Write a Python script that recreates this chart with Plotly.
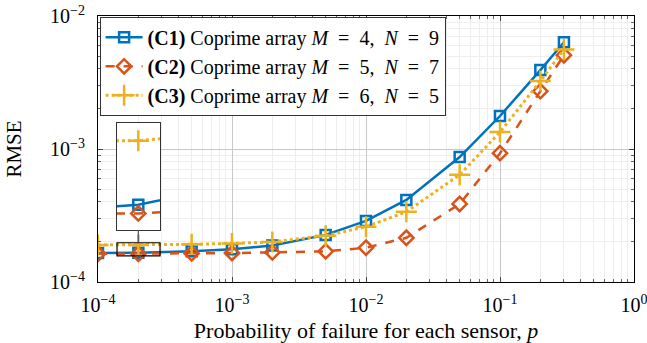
import plotly.graph_objects as go
import numpy as np

# ---- data ----
p = [1e-4, 2e-4, 5e-4, 1e-3, 2e-3, 5e-3, 1e-2, 2e-2, 5e-2, 1e-1, 2e-1, 3e-1]
rmse_c1 = [1.65e-4, 1.66e-4, 1.70e-4, 1.76e-4, 1.88e-4, 2.26e-4, 2.88e-4, 4.14e-4, 8.7e-4, 1.77e-3, 3.92e-3, 6.35e-3]
rmse_c2 = [1.63e-4, 1.63e-4, 1.64e-4, 1.65e-4, 1.67e-4, 1.70e-4, 1.81e-4, 2.15e-4, 3.86e-4, 9.3e-4, 2.72e-3, 5.07e-3]
rmse_c3 = [1.90e-4, 1.90e-4, 1.92e-4, 1.95e-4, 2.00e-4, 2.23e-4, 2.60e-4, 3.37e-4, 6.4e-4, 1.34e-3, 3.24e-3, 5.6e-3]

names = ["<b>(C1)</b> Coprime array <i>M</i>&nbsp; = &nbsp;4, &nbsp;<i>N</i>&nbsp; = &nbsp;9",
         "<b>(C2)</b> Coprime array <i>M</i>&nbsp; = &nbsp;5, &nbsp;<i>N</i>&nbsp; = &nbsp;7",
         "<b>(C3)</b> Coprime array <i>M</i>&nbsp; = &nbsp;6, &nbsp;<i>N</i>&nbsp; = &nbsp;5"]

x_tickvals = [1e-4, 1e-3, 1e-2, 1e-1, 1e0]
x_ticktext = ["10<sup>−4</sup>", "10<sup>−3</sup>", "10<sup>−2</sup>", "10<sup>−1</sup>", "10<sup>0</sup>"]
y_tickvals = [1e-4, 1e-3, 1e-2]
y_ticktext = ["10<sup>−4</sup>", "10<sup>−3</sup>", "10<sup>−2</sup>"]

# inset region (log10 units)
inset_x = [-3.858, -3.537]
inset_y = [-3.803, -3.705]

BLUE = "#0072BD"
ORANGE = "#D95319"
YELLOW = "#EDB120"
FONT = "Liberation Serif, Times New Roman, serif"

styles = [
    dict(color=BLUE, dash="solid", symbol="square-open", size=10, lw=2.5),
    dict(color=ORANGE, dash="dash", symbol="diamond-open", size=11, lw=2.5),
    dict(color=YELLOW, dash="dot", symbol="cross-thin-open", size=15, lw=3),
]
series = [rmse_c1, rmse_c2, rmse_c3]

fig = go.Figure()
for nm, ys, st in zip(names, series, styles):
    fig.add_trace(go.Scatter(
        x=p, y=ys, name=nm, mode="lines+markers",
        line=dict(color=st["color"], width=st["lw"], dash=st["dash"]),
        marker=dict(symbol=st["symbol"], size=st["size"], color=st["color"],
                    line=dict(color=st["color"], width=2.5)),
        xaxis="x", yaxis="y"))
# inset traces
for nm, ys, st in zip(names, series, styles):
    fig.add_trace(go.Scatter(
        x=p, y=ys, name=nm, mode="lines+markers", showlegend=False,
        line=dict(color=st["color"], width=st["lw"], dash=st["dash"]),
        marker=dict(symbol=st["symbol"], size=st["size"], color=st["color"],
                    line=dict(color=st["color"], width=2.5)),
        xaxis="x2", yaxis="y2", cliponaxis=True))

minor_x = [m * 10.0 ** k for k in range(-4, 0) for m in range(2, 10)]
minor_y = [m * 10.0 ** k for k in range(-4, -2) for m in range(2, 10)]

# main plot: x 98..634 of 647, y 16..282 of 343
L, R, T, B = 98, 13, 16, 61
W, H = 647, 343
pw, ph = W - L - R, H - T - B

def xp(px):
    return (px - L) / pw
def yp(py):
    return (H - B - py) / ph

fig.update_layout(
    width=W, height=H,
    margin=dict(l=L, r=R, t=T, b=B, autoexpand=False),
    paper_bgcolor="white", plot_bgcolor="white",
    font=dict(family=FONT, size=19, color="black"),
    showlegend=True,
    legend=dict(x=0.003, y=0.997, xanchor="left", yanchor="top",
                bgcolor="white", bordercolor="#333333", borderwidth=1,
                font=dict(family=FONT, size=20), itemwidth=37,
                tracegroupgap=0),
    xaxis=dict(type="log", range=[-4, 0], showline=True, mirror="allticks",
               linecolor="black", linewidth=1, automargin=False,
               tickmode="array", tickvals=x_tickvals, ticktext=x_ticktext,
               ticks="inside", ticklen=5, tickcolor="#444",
               ticklabeloverflow="allow", ticklabelstandoff=5,
               showgrid=True, gridcolor="#c8c8c8", gridwidth=1,
               minor=dict(tickmode="array", tickvals=minor_x, ticks="inside",
                          ticklen=3, tickcolor="#666", showgrid=True,
                          gridcolor="#eeeeee", gridwidth=1),
               zeroline=False,
               title=dict(text="Probability of failure for each sensor, <i>p</i>",
                          font=dict(family=FONT, size=22), standoff=11),
               tickfont=dict(family=FONT, size=20)),
    yaxis=dict(type="log", range=[-4, -2], showline=True, mirror="allticks",
               linecolor="black", linewidth=1, automargin=False,
               tickmode="array", tickvals=y_tickvals, ticktext=y_ticktext,
               ticks="inside", ticklen=5, tickcolor="#444",
               ticklabeloverflow="allow", ticklabelstandoff=8,
               showgrid=True, gridcolor="#c8c8c8", gridwidth=1,
               minor=dict(tickmode="array", tickvals=minor_y, ticks="inside",
                          ticklen=3, tickcolor="#666", showgrid=True,
                          gridcolor="#eeeeee", gridwidth=1),
               zeroline=False,
               title=dict(text="RMSE", font=dict(family=FONT, size=21), standoff=22),
               tickfont=dict(family=FONT, size=20)),
    xaxis2=dict(type="log", range=inset_x, domain=[xp(117), xp(160)],
                anchor="y2", showline=True, mirror=True, linecolor="#333",
                linewidth=1.2, showgrid=False, zeroline=False, automargin=False,
                showticklabels=False, ticks=""),
    yaxis2=dict(type="log", range=inset_y, domain=[yp(230), yp(123)],
                anchor="x2", showline=True, mirror=True, linecolor="#333",
                linewidth=1.2, showgrid=False, zeroline=False, automargin=False,
                showticklabels=False, ticks=""),
)

# zoom rectangle in main axes (data coords) and connector line
fig.add_shape(type="rect", xref="x", yref="y",
              x0=10 ** inset_x[0], x1=10 ** inset_x[1],
              y0=10 ** inset_y[0], y1=10 ** inset_y[1],
              line=dict(color="black", width=1.2), layer="above")
y_inset_bottom = -4 + 2 * yp(230)
fig.add_shape(type="line", xref="x", yref="y",
              x0=p[1], x1=p[1], y0=10 ** inset_y[1], y1=10 ** y_inset_bottom,
              line=dict(color="#555", width=1.2), layer="above")

fig.write_html("out.html")
